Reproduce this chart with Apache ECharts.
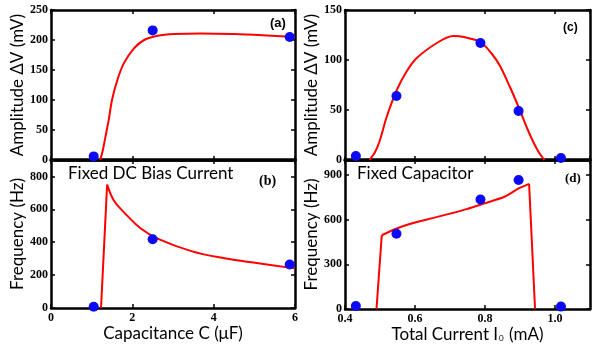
<!DOCTYPE html>
<html>
<head>
<meta charset="utf-8">
<script src="https://cdn.jsdelivr.net/npm/echarts@6/dist/echarts.min.js"></script>
<style>
html, body { margin: 0; padding: 0; background: #fff; }
#chart { width: 609px; height: 350px; }
</style>
</head>
<body>
<div id="chart"></div>
<script>
// measured points, left column (capacitance sweep)
const capPts = [1.05, 2.5, 5.87];
const ampCapPts = [6, 216, 205];
const freqCapPts = [8, 418, 265];

// fit curve, panel (a)
const fitCapA = [1.21, 1.27, 1.34, 1.42, 1.50, 1.63, 1.79, 2.04, 2.29, 2.62, 3.03, 3.69, 4.5, 5.2, 6.0];
const fitAmpA = [0, 15, 39, 67, 100, 133, 161, 186, 200, 207, 210, 211, 210, 208, 205];

// fit curve, panel (b): sharp rise, then smooth decay
const riseCapB = [1.23, 1.38];
const riseFreqB = [0, 750];
const fitCapB = [1.38, 1.545, 1.79, 2.21, 2.62, 3.45, 4.27, 5.10, 6.0];
const fitFreqB = [750, 654, 583, 483, 422, 346, 302, 272, 241];

// measured points, right column (current sweep)
const curPts = [0.431, 0.547, 0.787, 0.896, 1.017];
const ampCurPts = [4, 64, 117, 49, 2];
const freqCurPts = [20, 505, 735, 866, 16];

// fit curve, panel (c)
const fitCurC = [0.47, 0.486, 0.50, 0.519, 0.548, 0.575, 0.605, 0.667, 0.709, 0.74, 0.787, 0.82, 0.843, 0.87, 0.896, 0.92, 0.938, 0.955, 0.97];
const fitAmpC = [0, 8, 20, 43, 70, 88, 102, 118, 124, 123, 118, 106, 94, 74, 53, 32, 18, 7, 0];

// fit curve, panel (d): jump up, smooth rise, drop
const edgeCurD = [0.490, 0.505, null, 0.926, 0.943];
const edgeFreqD = [0, 495, null, 840, 0];
const fitCurD = [0.505, 0.548, 0.6, 0.65, 0.7, 0.75, 0.787, 0.82, 0.857, 0.896, 0.926];
const fitFreqD = [495, 540, 580, 610, 640, 672, 700, 725, 755, 809, 840];

const pairs = (xs, ys) => xs.map((x, i) => (x === null ? '-' : [x, ys[i]]));

const myChart = echarts.init(document.getElementById('chart'));

const labelFont = {
    color: '#000',
    fontFamily: 'Liberation Serif',
    fontWeight: 'bold',
    fontSize: 12
};
const nameFont = {
    color: '#000',
    fontFamily: 'Lato',
    fontSize: 17
};
const line = {show: true, onZero: false, lineStyle: {color: '#000', width: 2.5}};
const tick = {show: true, inside: true, length: 4, lineStyle: {color: '#000', width: 1.5}};

const grids = [
    {left: 51, top: 10, width: 244, height: 150},
    {left: 51, top: 160, width: 244, height: 148},
    {left: 345, top: 10, width: 245, height: 150},
    {left: 345, top: 160, width: 245, height: 149}
];

const xRanges = [
    {min: 0, max: 6, interval: 2},
    {min: 0, max: 6, interval: 2},
    {min: 0.4, max: 1.1, interval: 0.2},
    {min: 0.4, max: 1.1, interval: 0.2}
];
const yRanges = [
    {min: 0, max: 250, interval: 50},
    {min: 0, max: 900, interval: 200},
    {min: 0, max: 150, interval: 50},
    {min: 0, max: 1000, interval: 300}
];
const yNames = ['Amplitude ΔV (mV)', 'Frequency (Hz)', 'Amplitude ΔV (mV)', 'Frequency (Hz)'];
const xNames = ['', 'Capacitance C (μF)', '', '{a|Total Current I}{s|0}{a| (mA)}'];

const xAxis = [];
const yAxis = [];
grids.forEach((g, i) => {
    const showX = i === 1 || i === 3;
    xAxis.push(Object.assign({
        type: 'value',
        gridIndex: i,
        position: 'bottom',
        axisLine: i === 0 || i === 2 ? {show: true, onZero: false, lineStyle: {color: '#000', width: 3.5}} : line,
        splitLine: {show: false},
        axisTick: tick,
        axisLabel: Object.assign({
            show: showX,
            margin: 4,
            showMaxLabel: i === 1,
            formatter: v => (i === 3 ? v.toFixed(1) : String(v))
        }, labelFont),
        name: xNames[i],
        nameLocation: 'middle',
        nameGap: 13,
        nameTextStyle: Object.assign({}, nameFont, {
            rich: {
                a: {fontFamily: 'Lato', fontSize: 17, color: '#000'},
                s: {fontFamily: 'Lato', fontSize: 8, color: '#000', verticalAlign: 'bottom', padding: [7, 1, 0, 1]}
            }
        })
    }, xRanges[i]));
    xAxis.push(Object.assign({
        type: 'value',
        gridIndex: i,
        position: 'top',
        axisLine: line,
        splitLine: {show: false},
        axisTick: tick,
        axisLabel: {show: false}
    }, xRanges[i]));
    yAxis.push(Object.assign({
        type: 'value',
        gridIndex: i,
        position: 'left',
        axisLine: line,
        splitLine: {show: false},
        axisTick: tick,
        axisLabel: Object.assign({
            margin: 3,
            showMaxLabel: i === 0 || i === 2
        }, labelFont),
        name: yNames[i],
        nameLocation: 'middle',
        nameGap: 22,
        nameTextStyle: nameFont
    }, yRanges[i]));
    yAxis.push(Object.assign({
        type: 'value',
        gridIndex: i,
        position: 'right',
        axisLine: line,
        splitLine: {show: false},
        axisTick: tick,
        axisLabel: {show: false}
    }, yRanges[i]));
});

const fitLine = (i, xs, ys, smooth) => ({
    type: 'line',
    xAxisIndex: 2 * i,
    yAxisIndex: 2 * i,
    data: pairs(xs, ys),
    smooth: smooth,
    connectNulls: false,
    symbol: 'none',
    lineStyle: {color: '#ff0000', width: 2},
    z: 3
});
const dots = (i, xs, ys) => ({
    type: 'scatter',
    xAxisIndex: 2 * i,
    yAxisIndex: 2 * i,
    data: pairs(xs, ys),
    symbolSize: 10,
    itemStyle: {color: '#0a0af5', opacity: 1},
    z: 4
});

myChart.setOption({
    animation: false,
    backgroundColor: '#fff',
    grid: grids,
    xAxis: xAxis,
    yAxis: yAxis,
    graphic: [
        {type: 'text', left: 270, top: 17, style: {text: '(a)', font: 'bold 13px "Liberation Sans"', fill: '#000'}},
        {type: 'text', left: 259, top: 174, style: {text: '(b)', font: 'bold 14px "Liberation Serif"', fill: '#000'}},
        {type: 'text', left: 563, top: 22, style: {text: '(c)', font: 'bold 12px "Liberation Sans"', fill: '#000'}},
        {type: 'text', left: 565, top: 172, style: {text: '(d)', font: 'bold 13px "Liberation Serif"', fill: '#000'}},
        {type: 'text', left: 68, top: 165, style: {text: 'Fixed DC Bias Current', font: '17px Lato', fill: '#000'}},
        {type: 'text', left: 357, top: 165, style: {text: 'Fixed Capacitor', font: '17px Lato', fill: '#000'}}
    ],
    series: [
        fitLine(0, fitCapA, fitAmpA, 0.3),
        dots(0, capPts, ampCapPts),
        fitLine(1, riseCapB, riseFreqB, false),
        fitLine(1, fitCapB, fitFreqB, 0.4),
        dots(1, capPts, freqCapPts),
        fitLine(2, fitCurC, fitAmpC, 0.3),
        dots(2, curPts, ampCurPts),
        fitLine(3, edgeCurD, edgeFreqD, false),
        fitLine(3, fitCurD, fitFreqD, 0.3),
        dots(3, curPts, freqCurPts)
    ]
});
</script>
</body>
</html>
